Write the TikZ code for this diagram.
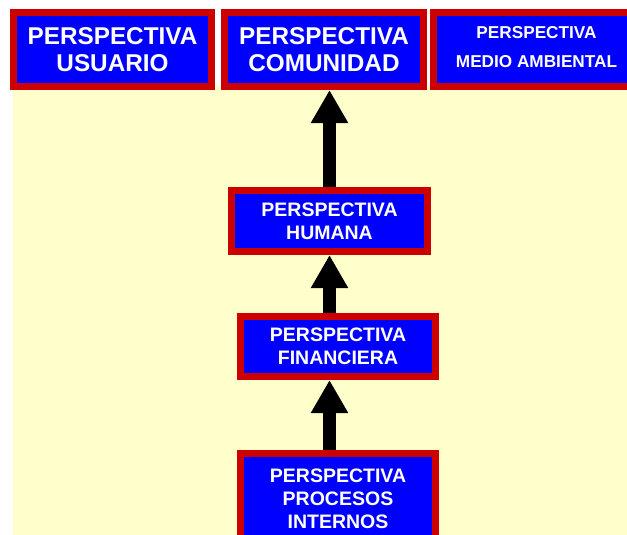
\documentclass[tikz,border=0pt]{standalone}
\usepackage{fontspec}
\setmainfont{Liberation Sans}
\usetikzlibrary{arrows.meta}
\definecolor{bgyellow}{HTML}{FFFFCC}
\definecolor{boxred}{HTML}{CC0000}
\definecolor{boxblue}{HTML}{0000FF}
\tikzset{
  persp/.style={draw=boxred, fill=boxblue, line width=7pt, inner sep=0pt,
    text=white, align=center},
  topfont/.style={font={\bfseries\fontsize{24.3}{27}\selectfont}},
  lowfont/.style={font={\bfseries\fontsize{19.5}{23}\selectfont}},
  upar/.style={-{Triangle[width=35pt,length=33pt]}, line width=13pt, black}
}
\begin{document}
\begin{tikzpicture}[x=1pt,y=-1pt]
\useasboundingbox (0,0) rectangle (627,535);
\clip (0,0) rectangle (627,535);
\fill[white] (0,0) rectangle (627,535);
\fill[bgyellow] (13,85) rectangle (627,535);
% top row
\node[persp, topfont, minimum width=198pt, minimum height=74pt] (usuario) at (112.5,49.5)
  {PERSPECTIVA\\USUARIO};
\node[persp, topfont, minimum width=199pt, minimum height=74pt] (comunidad) at (324,49.5)
  {PERSPECTIVA\\COMUNIDAD};
\node[persp, minimum width=213pt, minimum height=74pt] (ambiental) at (540,49.5) {};
\node[text=white, align=center, inner sep=0pt,
  font={\bfseries\fontsize{17.2}{29}\selectfont}] (ambientaltxt) at (536.5,47)
  {PERSPECTIVA\\MEDIO AMBIENTAL};
% column
\node[persp, lowfont, minimum width=196pt, minimum height=61pt] (humana) at (329.5,221)
  {PERSPECTIVA\\HUMANA};
\node[persp, lowfont, minimum width=195pt, minimum height=60pt] (financiera) at (338,346.5)
  {PERSPECTIVA\\FINANCIERA};
\node[persp, lowfont, minimum width=195pt, minimum height=91pt] (procesos) at (338,499)
  {PERSPECTIVA\\PROCESOS\\INTERNOS};
% arrows
\draw[upar] (humana.north) -- (humana.north |- comunidad.south);
\draw[upar] (humana.south |- financiera.north) -- (humana.south);
\draw[upar] (humana.south |- procesos.north) -- (humana.south |- financiera.south);
\end{tikzpicture}
\end{document}
